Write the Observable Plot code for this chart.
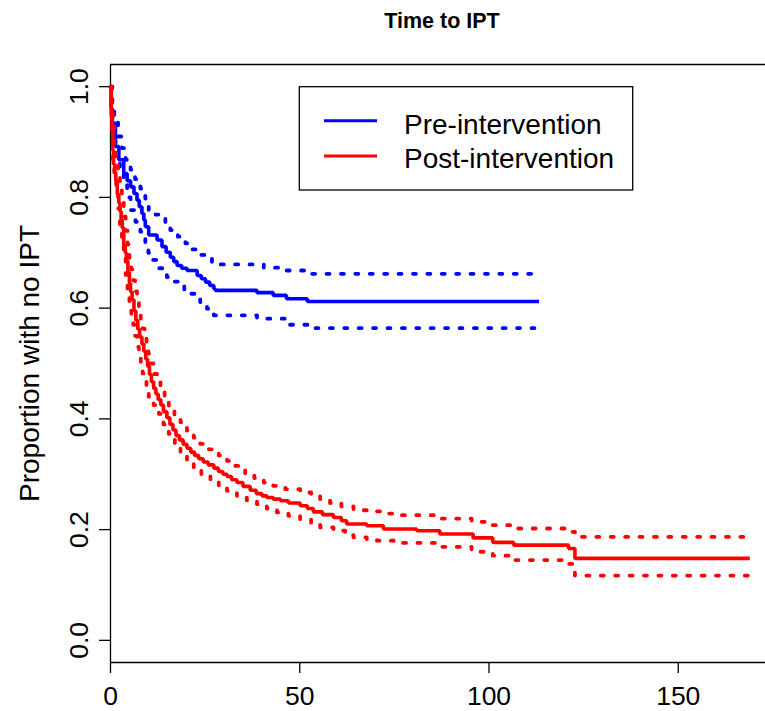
<!DOCTYPE html>
<html>
<head>
<meta charset="utf-8">
<script src="https://cdn.jsdelivr.net/npm/d3@7"></script>
<script src="https://cdn.jsdelivr.net/npm/@observablehq/plot@0.6"></script>
<style>
  html, body { margin: 0; padding: 0; background: #fff; overflow: hidden; }
  #chart { width: 765px; height: 711px; }
</style>
</head>
<body>
<div id="chart"></div>
<script>
// ---- data ----
const chartTitle = "Time to IPT";
const yLabel = "Proportion with no IPT";
const xTicks = [0, 50, 100, 150];
const yTicks = [0, 0.2, 0.4, 0.6, 0.8, 1.0];
const seriesNames = ["Pre-intervention", "Post-intervention"];
const seriesColors = ["#0000ff", "#ff0000"];
const xDomain = [0, 173.05];
const yDomain = [-0.04, 1.04];

// Pre-intervention Kaplan–Meier estimate [time, survival]
const preEst = [[0,1.0],[0.2,0.96],[0.5,0.934],[1.3,0.892],[2.2,0.868],[3.5,0.843],[4.4,0.83],[5.3,0.819],[6.2,0.807],[7.0,0.795],[7.6,0.783],[8.3,0.771],[8.8,0.759],[9.2,0.747],[10.1,0.732],[12.3,0.723],[13.6,0.711],[14.7,0.701],[15.8,0.692],[16.7,0.684],[17.6,0.677],[18.8,0.672],[20.2,0.668],[22.9,0.659],[24,0.653],[25.1,0.647],[26.2,0.641],[27.3,0.635],[27.7,0.632],[38.7,0.628],[43,0.623],[46.5,0.617],[52,0.612],[113.2,0.612]];
const preHi = [[0,1.0],[0.5,0.96],[1,0.935],[2,0.91],[3,0.889],[4,0.868],[5.3,0.85],[6.5,0.833],[7.9,0.816],[9.2,0.798],[10.1,0.777],[11.9,0.769],[13.6,0.765],[14.5,0.752],[15.8,0.741],[17.8,0.729],[19.8,0.717],[21.5,0.706],[23.7,0.696],[25,0.689],[26.8,0.683],[28.5,0.679],[40.5,0.673],[45,0.668],[52,0.662],[113.2,0.662]];
const preLo = [[0,1.0],[0.3,0.95],[0.7,0.9],[1.5,0.865],[2.5,0.845],[3.5,0.825],[4.4,0.8],[5.3,0.777],[6.6,0.756],[7.9,0.738],[9.2,0.717],[10,0.7],[11,0.687],[12.5,0.672],[14.9,0.656],[16.5,0.648],[18,0.641],[19.5,0.633],[21.1,0.626],[22.5,0.618],[23.7,0.611],[25.5,0.599],[27.3,0.587],[38.7,0.581],[46.6,0.57],[53,0.564],[113.2,0.564]];

// Post-intervention Kaplan–Meier estimate [time, survival]
const postEst = [[0,1.0],[0.2,0.95],[0.4,0.92],[0.6,0.885],[0.8,0.86],[1.1,0.845],[1.4,0.83],[1.8,0.806],[2.2,0.79],[2.5,0.775],[2.8,0.76],[3.1,0.745],[3.5,0.715],[3.9,0.7],[4.2,0.685],[4.6,0.665],[5.0,0.645],[5.3,0.63],[5.7,0.615],[6.2,0.595],[6.7,0.578],[7.2,0.562],[7.7,0.548],[8.3,0.535],[8.8,0.522],[9.3,0.508],[9.8,0.495],[10.3,0.48],[10.8,0.467],[11.4,0.455],[12,0.445],[12.6,0.435],[13.3,0.425],[14,0.413],[14.9,0.402],[15.7,0.39],[16.5,0.38],[17.3,0.37],[18.2,0.362],[19.2,0.354],[20.2,0.347],[21.2,0.34],[22.2,0.334],[23.3,0.328],[24.5,0.322],[25.8,0.317],[27.3,0.311],[28.5,0.305],[29.7,0.3],[30.8,0.296],[32,0.29],[33.4,0.285],[35,0.278],[36.9,0.271],[38.5,0.265],[40,0.261],[41.3,0.258],[43,0.255],[44.9,0.252],[47,0.248],[50.1,0.243],[52,0.238],[53.6,0.232],[56,0.227],[58.9,0.222],[61,0.216],[62.4,0.21],[67.7,0.207],[72.1,0.201],[80.9,0.198],[87,0.192],[95.8,0.185],[101,0.177],[106.5,0.172],[121,0.166],[122.7,0.148],[168.9,0.148]];
const postHi = [[0,1.0],[0.3,0.965],[0.6,0.93],[1,0.895],[1.5,0.865],[2,0.84],[2.5,0.815],[3,0.79],[3.5,0.765],[4,0.74],[4.5,0.715],[5,0.69],[5.5,0.67],[6,0.65],[6.5,0.63],[7,0.612],[7.5,0.595],[8,0.578],[8.5,0.563],[9,0.548],[9.5,0.533],[10,0.518],[10.6,0.5],[11.4,0.481],[12.3,0.469],[13.2,0.457],[14.3,0.44],[15.4,0.424],[16.9,0.408],[18.5,0.394],[20.2,0.379],[22,0.366],[23.7,0.355],[26,0.345],[28.6,0.334],[30.8,0.324],[33,0.315],[35.6,0.3],[38,0.293],[40.5,0.285],[43,0.279],[46.2,0.273],[50.1,0.267],[53,0.26],[55.4,0.255],[58,0.248],[61,0.242],[64.2,0.235],[67.7,0.233],[72,0.229],[74.8,0.226],[87,0.22],[95.4,0.214],[101,0.208],[106.5,0.202],[121,0.196],[122.7,0.187],[168.9,0.187]];
const postLo = [[0,1.0],[0.3,0.925],[0.6,0.865],[1,0.83],[1.5,0.805],[2,0.78],[2.5,0.75],[3,0.72],[3.5,0.69],[4,0.66],[4.5,0.635],[5,0.61],[5.5,0.59],[6,0.57],[6.5,0.55],[7,0.53],[7.5,0.513],[8,0.497],[8.5,0.482],[9,0.467],[9.5,0.453],[10.1,0.44],[11.4,0.425],[12.8,0.409],[14,0.39],[15.4,0.373],[17,0.355],[18.5,0.34],[20.2,0.325],[22,0.312],[24,0.3],[26.4,0.291],[28.6,0.28],[30.8,0.27],[33.4,0.261],[36,0.253],[38.7,0.246],[41.3,0.238],[44,0.231],[47,0.225],[50.1,0.219],[53,0.21],[55.4,0.204],[58.9,0.198],[62,0.19],[64.2,0.186],[67.7,0.182],[70.4,0.18],[74.8,0.177],[77,0.176],[87,0.169],[95.4,0.16],[101,0.153],[106.5,0.145],[121,0.138],[122.7,0.117],[168.9,0.117]];

// ---- chart ----
const FONT = "'Liberation Sans', Arial, Helvetica, sans-serif";
const solid = (data, color) => Plot.line(data, {
  x: d => d[0], y: d => d[1], curve: "step-after",
  stroke: color, strokeWidth: 3.6, strokeLinejoin: "miter", strokeLinecap: "butt"
});
const dotted = (data, color) => Plot.line(data, {
  x: d => d[0], y: d => d[1], curve: "step-after",
  stroke: color, strokeWidth: 3.8, strokeDasharray: "3,11.4", strokeLinecap: "round"
});

const chart = Plot.plot({
  width: 765,
  height: 711,
  marginLeft: 110,
  marginRight: 0,
  marginTop: 64,
  marginBottom: 49,
  style: { fontFamily: FONT, background: "#fff", color: "#000" },
  x: { domain: xDomain },
  y: { domain: yDomain },
  marks: [
    // plot box (left, top, bottom; right side lies beyond the picture)
    Plot.ruleX([xDomain[0]], { stroke: "#000", strokeWidth: 1.3 }),
    Plot.ruleY([yDomain[0]], { stroke: "#000", strokeWidth: 1.3 }),
    Plot.ruleY([yDomain[1]], { stroke: "#000", strokeWidth: 1.3 }),
    // axes
    Plot.axisX({ ticks: xTicks, tickSize: 11, tickPadding: 13, fontSize: 26.5, label: null,
                 tickFormat: d => String(d), strokeWidth: 1.3, fill: "#000" }),
    Plot.axisY({ ticks: yTicks, tickSize: 11, label: null, tickFormat: () => "", strokeWidth: 1.3 }),
    Plot.text(yTicks, { y: d => d, text: d => d.toFixed(1), frameAnchor: "left", dx: -23,
                        rotate: -90, textAnchor: "middle", lineAnchor: "bottom",
                        fontSize: 26.5, fill: "#000" }),
    Plot.text([yLabel], { text: d => d, frameAnchor: "left", dx: -72, rotate: -90,
                          textAnchor: "middle", lineAnchor: "bottom", fontSize: 28, fill: "#000" }),
    // curves
    solid(preEst, seriesColors[0]),
    dotted(preHi, seriesColors[0]),
    dotted(preLo, seriesColors[0]),
    solid(postEst, seriesColors[1]),
    dotted(postHi, seriesColors[1]),
    dotted(postLo, seriesColors[1])
  ]
});
document.getElementById("chart").appendChild(chart);

// title and legend (layout only)
const svg = d3.select(chart);
svg.append("text")
  .attr("x", 442).attr("y", 27.7)
  .attr("text-anchor", "middle")
  .attr("font-family", FONT).attr("font-weight", "bold").attr("font-size", 21.5)
  .attr("fill", "#000")
  .text(chartTitle);

const lg = svg.append("g").attr("text-anchor", "start");
lg.append("rect")
  .attr("x", 299.3).attr("y", 86.7).attr("width", 333.4).attr("height", 103.3)
  .attr("fill", "#fff").attr("stroke", "#000").attr("stroke-width", 1.3);
seriesNames.forEach((name, i) => {
  const yLine = 120.7 + i * 35.3;
  lg.append("line")
    .attr("x1", 324).attr("x2", 377).attr("y1", yLine).attr("y2", yLine)
    .attr("stroke", seriesColors[i]).attr("stroke-width", 3);
  lg.append("text")
    .attr("x", 404).attr("y", 134 + i * 34)
    .attr("text-anchor", "start")
    .attr("font-family", FONT).attr("font-size", 28).attr("fill", "#000")
    .text(name);
});
</script>
</body>
</html>
